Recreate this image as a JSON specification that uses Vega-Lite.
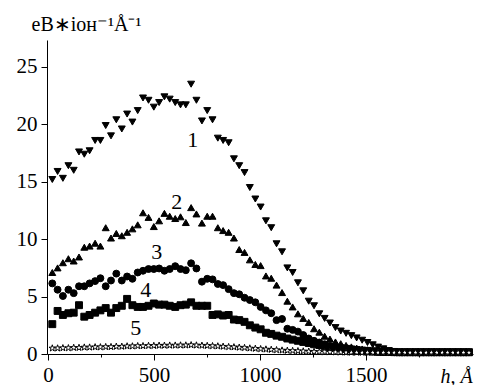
{
  "$schema": "https://vega.github.io/schema/vega-lite/v6.json",
  "autosize": "none",
  "width": 426,
  "height": 314,
  "padding": {"left": 47, "top": 40, "right": 9, "bottom": 31},
  "background": "white",
  "config": {
    "view": {"stroke": null},
    "font": "Liberation Serif",
    "axis": {
      "grid": false,
      "domainColor": "black",
      "domainWidth": 1,
      "tickColor": "black",
      "tickWidth": 1,
      "labelColor": "black",
      "titleColor": "black"
    }
  },
  "datasets": {
    "series": [
      {"h": 20, "a": 15.2, "b": 7.1, "c": 6.15, "d": 2.6, "e": 0.5},
      {"h": 45, "a": 15.9, "b": 7.5, "c": 5.6, "d": 3.75, "e": 0.5},
      {"h": 70, "a": 15.3, "b": 7.95, "c": 5.05, "d": 3.4, "e": 0.52},
      {"h": 96, "a": 16.4, "b": 8.3, "c": 5.6, "d": 3.55, "e": 0.52},
      {"h": 121, "a": 16.0, "b": 8.1, "c": 5.3, "d": 3.6, "e": 0.55},
      {"h": 146, "a": 17.6, "b": 8.45, "c": 5.9, "d": 4.25, "e": 0.55},
      {"h": 171, "a": 17.4, "b": 9.3, "c": 5.9, "d": 3.25, "e": 0.58},
      {"h": 196, "a": 17.7, "b": 9.4, "c": 6.15, "d": 3.4, "e": 0.58},
      {"h": 222, "a": 18.6, "b": 9.65, "c": 6.35, "d": 3.6, "e": 0.6},
      {"h": 247, "a": 18.6, "b": 9.4, "c": 6.6, "d": 3.8, "e": 0.6},
      {"h": 272, "a": 19.9, "b": 11.0, "c": 5.9, "d": 4.0, "e": 0.62},
      {"h": 297, "a": 19.0, "b": 10.1, "c": 6.4, "d": 3.6, "e": 0.62},
      {"h": 322, "a": 20.4, "b": 10.5, "c": 7.0, "d": 4.0, "e": 0.65},
      {"h": 348, "a": 19.6, "b": 10.3, "c": 6.4, "d": 4.2, "e": 0.65},
      {"h": 373, "a": 20.9, "b": 10.6, "c": 6.75, "d": 4.8, "e": 0.68},
      {"h": 398, "a": 20.2, "b": 10.9, "c": 6.55, "d": 4.25, "e": 0.68},
      {"h": 423, "a": 21.2, "b": 11.25, "c": 7.1, "d": 4.1, "e": 0.7},
      {"h": 448, "a": 22.3, "b": 12.3, "c": 7.25, "d": 4.1, "e": 0.7},
      {"h": 474, "a": 22.1, "b": 11.9, "c": 7.4, "d": 4.2, "e": 0.72},
      {"h": 499, "a": 21.5, "b": 11.1, "c": 7.4, "d": 4.4, "e": 0.72},
      {"h": 524, "a": 21.9, "b": 11.6, "c": 7.45, "d": 4.3, "e": 0.74},
      {"h": 549, "a": 22.4, "b": 12.25, "c": 7.25, "d": 4.3, "e": 0.74},
      {"h": 574, "a": 22.2, "b": 12.0, "c": 7.4, "d": 4.2, "e": 0.75},
      {"h": 600, "a": 21.9, "b": 11.8, "c": 7.65, "d": 4.1, "e": 0.75},
      {"h": 625, "a": 21.7, "b": 11.95, "c": 7.4, "d": 4.25, "e": 0.76},
      {"h": 650, "a": 21.7, "b": 11.45, "c": 7.3, "d": 4.3, "e": 0.76},
      {"h": 675, "a": 23.5, "b": 12.75, "c": 7.9, "d": 4.5, "e": 0.78},
      {"h": 700, "a": 22.1, "b": 12.2, "c": 7.45, "d": 4.2, "e": 0.76},
      {"h": 726, "a": 20.3, "b": 11.4, "c": 6.3, "d": 4.2, "e": 0.74},
      {"h": 751, "a": 21.2, "b": 12.0, "c": 6.55, "d": 4.2, "e": 0.72},
      {"h": 776, "a": 20.4, "b": 12.0, "c": 6.5, "d": 3.4, "e": 0.7},
      {"h": 801, "a": 18.8, "b": 11.0, "c": 6.1, "d": 3.45, "e": 0.68},
      {"h": 826, "a": 18.6, "b": 10.75, "c": 6.0, "d": 3.35, "e": 0.65},
      {"h": 852, "a": 18.4, "b": 10.6, "c": 5.65, "d": 3.4, "e": 0.62},
      {"h": 877, "a": 17.0, "b": 10.1, "c": 5.3, "d": 3.0, "e": 0.6},
      {"h": 902, "a": 16.4, "b": 9.1, "c": 5.2, "d": 2.95, "e": 0.57},
      {"h": 927, "a": 15.8, "b": 8.85, "c": 4.9, "d": 2.8, "e": 0.54},
      {"h": 952, "a": 14.5, "b": 8.2, "c": 4.7, "d": 2.5, "e": 0.5},
      {"h": 978, "a": 13.5, "b": 7.8, "c": 4.5, "d": 2.3, "e": 0.47},
      {"h": 1003, "a": 12.8, "b": 7.7, "c": 4.1, "d": 2.15, "e": 0.44},
      {"h": 1028, "a": 11.6, "b": 6.8, "c": 3.8, "d": 1.85, "e": 0.41},
      {"h": 1053, "a": 11.0, "b": 6.6, "c": 3.55, "d": 1.75, "e": 0.38},
      {"h": 1078, "a": 9.6, "b": 6.0, "c": 2.95, "d": 1.6, "e": 0.35},
      {"h": 1104, "a": 8.9, "b": 5.35, "c": 3.05, "d": 1.5, "e": 0.32},
      {"h": 1129, "a": 7.5, "b": 4.6, "c": 2.2, "d": 1.35, "e": 0.3},
      {"h": 1154, "a": 7.1, "b": 4.1, "c": 2.1, "d": 1.25, "e": 0.28},
      {"h": 1179, "a": 6.2, "b": 3.5, "c": 1.95, "d": 1.15, "e": 0.26},
      {"h": 1204, "a": 5.5, "b": 3.1, "c": 1.65, "d": 1.05, "e": 0.24},
      {"h": 1230, "a": 4.6, "b": 2.75, "c": 1.35, "d": 0.95, "e": 0.22},
      {"h": 1255, "a": 4.2, "b": 2.2, "c": 1.15, "d": 0.85, "e": 0.2},
      {"h": 1280, "a": 3.5, "b": 1.9, "c": 1.0, "d": 0.78, "e": 0.19},
      {"h": 1305, "a": 3.1, "b": 1.55, "c": 0.85, "d": 0.7, "e": 0.18},
      {"h": 1330, "a": 2.7, "b": 1.3, "c": 0.7, "d": 0.62, "e": 0.17},
      {"h": 1356, "a": 2.3, "b": 1.05, "c": 0.6, "d": 0.55, "e": 0.16},
      {"h": 1381, "a": 2.0, "b": 0.9, "c": 0.5, "d": 0.5, "e": 0.15},
      {"h": 1406, "a": 1.8, "b": 0.75, "c": 0.42, "d": 0.45, "e": 0.14},
      {"h": 1431, "a": 1.6, "b": 0.62, "c": 0.35, "d": 0.4, "e": 0.13},
      {"h": 1456, "a": 1.4, "b": 0.52, "c": 0.3, "d": 0.35, "e": 0.13},
      {"h": 1482, "a": 1.2, "b": 0.44, "c": 0.25, "d": 0.3, "e": 0.12},
      {"h": 1507, "a": 1.0, "b": 0.37, "c": 0.22, "d": 0.27, "e": 0.12},
      {"h": 1532, "a": 0.8, "b": 0.3, "c": 0.2, "d": 0.24, "e": 0.12},
      {"h": 1557, "a": 0.6, "b": 0.25, "c": 0.18, "d": 0.2, "e": 0.12},
      {"h": 1582, "a": 0.45, "b": 0.2, "c": 0.17, "d": 0.18, "e": 0.12},
      {"h": 1608, "a": 0.3, "b": 0.18, "c": 0.16, "d": 0.17, "e": 0.12},
      {"h": 1633, "a": 0.22, "b": 0.17, "c": 0.15, "d": 0.16, "e": 0.12},
      {"h": 1658, "a": 0.18, "b": 0.16, "c": 0.15, "d": 0.15, "e": 0.12},
      {"h": 1683, "a": 0.18, "b": 0.16, "c": 0.15, "d": 0.15, "e": 0.12},
      {"h": 1708, "a": 0.18, "b": 0.16, "c": 0.15, "d": 0.15, "e": 0.12},
      {"h": 1734, "a": 0.18, "b": 0.16, "c": 0.15, "d": 0.15, "e": 0.12},
      {"h": 1759, "a": 0.18, "b": 0.16, "c": 0.15, "d": 0.15, "e": 0.12},
      {"h": 1784, "a": 0.18, "b": 0.16, "c": 0.15, "d": 0.15, "e": 0.12},
      {"h": 1809, "a": 0.18, "b": 0.16, "c": 0.15, "d": 0.15, "e": 0.12},
      {"h": 1834, "a": 0.18, "b": 0.16, "c": 0.15, "d": 0.15, "e": 0.12},
      {"h": 1860, "a": 0.18, "b": 0.16, "c": 0.15, "d": 0.15, "e": 0.12},
      {"h": 1885, "a": 0.18, "b": 0.16, "c": 0.15, "d": 0.15, "e": 0.12},
      {"h": 1910, "a": 0.18, "b": 0.16, "c": 0.15, "d": 0.15, "e": 0.12},
      {"h": 1935, "a": 0.18, "b": 0.16, "c": 0.15, "d": 0.15, "e": 0.12},
      {"h": 1960, "a": 0.18, "b": 0.16, "c": 0.15, "d": 0.15, "e": 0.12},
      {"h": 1986, "a": 0.18, "b": 0.16, "c": 0.15, "d": 0.15, "e": 0.12}
    ],
    "labels": [
      {"h": 683, "v": 18.6, "t": "1"},
      {"h": 607, "v": 13.2, "t": "2"},
      {"h": 513, "v": 8.9, "t": "3"},
      {"h": 461, "v": 5.6, "t": "4"},
      {"h": 414, "v": 2.3, "t": "5"}
    ]
  },
  "layer": [
    {
      "data": {"name": "series"},
      "transform": [{"fold": ["a", "b", "c", "d", "e"], "as": ["s", "v"]}],
      "mark": {"type": "point", "stroke": "black", "strokeWidth": 1, "opacity": 1, "clip": false},
      "encoding": {
        "x": {
          "field": "h", "type": "quantitative",
          "scale": {"domain": [-5, 2005], "nice": false, "zero": false},
          "axis": {
            "values": [0, 250, 500, 750, 1000, 1250, 1500, 1750],
            "labelExpr": "datum.value % 500 === 0 ? format(datum.value, 'd') : ''",
            "tickSize": {"condition": {"test": "datum.value % 500 === 0", "value": 6}, "value": 3},
            "labelFont": "Liberation Serif",
            "labelFontSize": 21,
            "labelPadding": 4,
            "labelFlush": false,
            "labelOverlap": false,
            "title": "h, Å",
            "titleFont": "Liberation Serif",
            "titleFontWeight": "normal",
            "titleFontSize": 20,
            "titleFontStyle": "italic",
            "titleAlign": "left",
            "titleBaseline": "alphabetic",
            "titleAnchor": null,
            "titleX": 393,
            "titleY": 28
          }
        },
        "y": {
          "field": "v", "type": "quantitative",
          "scale": {"domain": [0, 27.35], "nice": false, "zero": false},
          "axis": {
            "values": [0, 2.5, 5, 7.5, 10, 12.5, 15, 17.5, 20, 22.5, 25],
            "labelExpr": "datum.value % 5 === 0 ? format(datum.value, 'd') : ''",
            "tickSize": {"condition": {"test": "datum.value % 5 === 0", "value": 6}, "value": 3},
            "labelFont": "Liberation Serif",
            "labelFontSize": 21,
            "labelPadding": 4,
            "labelOverlap": false,
            "title": "еВ∗іон⁻¹Å⁻¹",
            "titleFont": "Liberation Serif",
            "titleFontWeight": "normal",
            "titleFontSize": 20,
            "titleAngle": 0,
            "titleAlign": "left",
            "titleBaseline": "alphabetic",
            "titleAnchor": null,
            "titleX": -16,
            "titleY": -10
          }
        },
        "shape": {
          "field": "s", "type": "nominal",
          "scale": {
            "domain": ["a", "b", "c", "d", "e"],
            "range": ["triangle-down", "triangle-up", "circle", "square",
              "M0,-1L0.2245,-0.309L0.951,-0.309L0.363,0.118L0.588,0.809L0,0.382L-0.588,0.809L-0.363,0.118L-0.951,-0.309L-0.2245,-0.309Z"]
          },
          "legend": null
        },
        "fill": {
          "field": "s", "type": "nominal",
          "scale": {"domain": ["a", "b", "c", "d", "e"], "range": ["black", "black", "black", "black", "white"]},
          "legend": null
        },
        "size": {
          "field": "s", "type": "nominal",
          "scale": {"domain": ["a", "b", "c", "d", "e"], "range": [48, 48, 38, 32, 40]},
          "legend": null
        }
      }
    },
    {
      "data": {"name": "labels"},
      "mark": {"type": "text", "font": "Liberation Serif", "fontSize": 22, "align": "center", "baseline": "middle", "color": "black"},
      "encoding": {
        "x": {"field": "h", "type": "quantitative"},
        "y": {"field": "v", "type": "quantitative"},
        "text": {"field": "t"}
      }
    }
  ]
}
